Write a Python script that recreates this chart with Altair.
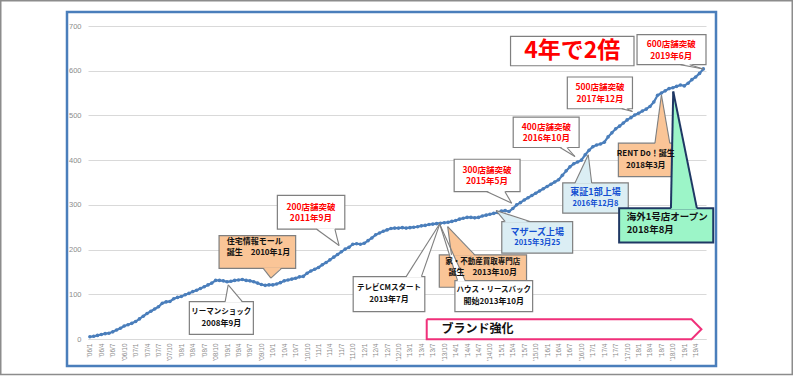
import altair as alt
import pandas as pd

# ---- data: monthly store count, 2006/1 .. 2019/6 ----
stores = [
    5, 6, 8, 10, 12, 13, 16, 20, 24, 29, 32, 35,            # 2006
    39, 45, 51, 57, 62, 67, 72, 80, 83, 84, 90, 93,         # 2007
    95, 99, 102, 106, 109, 113, 117, 121, 125, 131, 131, 130,  # 2008
    128, 129, 131, 132, 133, 131, 130, 128, 125, 122, 120, 121,  # 2009
    121, 123, 126, 130, 132, 134, 136, 139, 140, 147, 152, 156,  # 2010
    160, 166, 171, 177, 183, 189, 195, 201, 205, 212, 213, 212,  # 2011
    214, 220, 226, 233, 237, 241, 244, 247, 248, 248, 249, 248,  # 2012
    249, 250, 251, 253, 254, 256, 257, 258, 259, 260, 261, 263,  # 2013
    265, 268, 270, 272, 272, 271, 272, 275, 277, 279, 281, 283,  # 2014
    286, 287, 285, 292, 300, 305, 311, 316, 321, 326, 331, 336,  # 2015
    341, 346, 351, 356, 366, 376, 385, 392, 396, 400, 412, 422,  # 2016
    430, 434, 436, 440, 452, 461, 470, 476, 483, 490, 495, 501,  # 2017
    505, 510, 514, 520, 530, 545, 550, 555, 560, 562, 565, 568,  # 2018
    566, 572, 580, 586, 594, 604,                                # 2019
]
month_index = list(range(len(stores)))
tick_labels = [f"'{(2006 + k // 4) % 100:02d}/{1 + 3 * (k % 4)}" for k in range(54)]
tick_values = [3 * k for k in range(54)]
y_ticks = [0, 100, 200, 300, 400, 500, 600, 700]

# ---- annotation callouts (in data units: month index, store count) ----
box_id = ["lehman", "jutaku", "s200", "tvcm", "ie", "house", "s300", "mothers",
          "tosho", "rent", "kaigai", "x2", "s600", "s500", "s400"]
box_x1 = [26.1, 33.9, 49.2, 69.1, 91.7, 95.8, 95.6, 108.1, 124.1, 138.7, 138.9, 110.4, 143.6, 125.3, 111.1]
box_x2 = [42.9, 54.0, 66.9, 87.9, 114.6, 116.2, 112.9, 126.7, 141.3, 153.1, 163.6, 142.8, 161.7, 142.4, 128.4]
box_y1 = [10.5, 158, 245.6, 61, 115.7, 61, 329.7, 191.9, 281.4, 363.3, 215.6, 611.1, 613.4, 514.9, 428.3]
box_y2 = [83.5, 231, 321, 139.5, 188, 130.5, 402, 262.6, 349, 438, 292.6, 676.7, 680.5, 585.9, 496.3]
WHITE, ORANGE, LBLUE, MINT = "#ffffff", "#fac597", "#dbeef4", "#9cf5c8"
GRAY, NAVY = "#7f7f7f", "#1f3864"
box_fill = [WHITE, ORANGE, WHITE, WHITE, ORANGE, WHITE, WHITE, LBLUE, LBLUE, ORANGE, MINT, WHITE, WHITE, WHITE, WHITE]
box_stroke = [GRAY] * 10 + [NAVY] + [GRAY] * 4
box_sw = [1.2] * 10 + [2] + [1.2] * 4

# pointers: base on box edge (y, x1..x2) and tip
ptr_id = ["lehman", "jutaku", "s200", "tvcm", "ie", "house", "s300", "mothers",
          "tosho", "rent", "kaigai", "s600", "s500", "s400"]
ptr_by = [83.5, 158, 245.6, 139.5, 188, 130.5, 329.7, 262.6, 349, 438, 292.6, 613.4, 514.9, 428.3]
ptr_b1 = [35.5, 45.5, 59.5, 83.0, 94.9, 96.5, 104.1, 109.0, 127.3, 148.3, 152.5, 155.0, 139.6, 123.4]
ptr_b2 = [40.0, 50.3, 64.3, 87.0, 101.0, 98.5, 108.9, 115.5, 131.7, 152.2, 159.3, 157.4, 140.9, 125.2]
ptr_tx = [36.3, 47.5, 65.4, 91.9, 93.9, 91.9, 110.7, 106.6, 130.8, 150.0, 153.1, 161.0, 142.4, 127.3]
ptr_ty = [121, 136, 209, 259, 251.4, 255, 303.8, 287.2, 412, 546, 553.6, 603.8, 508.8, 408]
ptr_fill = [WHITE, ORANGE, WHITE, WHITE, ORANGE, WHITE, WHITE, LBLUE, LBLUE, ORANGE, MINT, WHITE, WHITE, WHITE]
ptr_edge = [GRAY] * 10 + [NAVY] + [GRAY] * 3

RED, BLACK, BLUE = "#ff0000", "#111111", "#1450d2"
txt = ["リーマンショック", "2008年9月",
       "200店舗突破", "2011年9月",
       "テレビCMスタート", "2013年7月",
       "家・不動産買取専門店", "誕生　2013年10月",
       "ハウス・リースバック", "開始2013年10月",
       "300店舗突破", "2015年5月",
       "マザーズ上場", "2015年3月25",
       "東証1部上場", "2016年12月8",
       "RENT Do！誕生", "2018年3月",
       "4年で2倍",
       "600店舗突破", "2019年6月",
       "500店舗突破", "2017年12月",
       "400店舗突破", "2016年10月"]
txt_x = [34.5, 34.5, 58.0, 58.0, 78.5, 78.5, 103.1, 103.1, 106.0, 106.0, 104.2, 104.2,
         117.4, 117.4, 132.7, 132.7, 145.9, 145.9, 126.6, 152.6, 152.6, 133.9, 133.9, 119.8, 119.8]
txt_y = [60, 34, 296.2, 270.2, 113.3, 87.5, 172.4, 146.6, 109, 82.8, 379, 353,
         240.2, 214.2, 328.6, 302.7, 413.7, 387.7, 644, 660, 634, 563.2, 537.3, 475.2, 449.3]
txt_c = [BLACK, BLACK, RED, RED, BLACK, BLACK, BLACK, BLACK, BLACK, BLACK, RED, RED,
         BLUE, BLUE, BLUE, BLUE, BLACK, BLACK, RED, RED, RED, RED, RED, RED, RED]
txt_s = [7.5, 8, 8.5, 8.5, 7.5, 8, 7.5, 8, 7.5, 8, 8.5, 8.5, 9, 7.5, 9, 7.5, 8, 8, 23,
         8.5, 8.5, 8.5, 8.5, 8.5, 8.5]

left_txt = ["住宅情報モール", "誕生　2010年1月", "海外1号店オープン", "2018年8月", "ブランド強化"]
left_x = [35.9, 35.9, 140.9, 140.9, 92.3]
left_y = [217.1, 191.4, 273.8, 244, 21.7]
left_s = [8, 8, 9.5, 9.5, 12]

arrow_x = [88.4, 157.9, 160.5, 157.9, 88.4, 88.4]
arrow_y = [44.1, 44.1, 21.7, -0.7, -0.7, 44.1]

# ---- build tables ----
line_df = pd.DataFrame({"i": month_index, "v": stores})
box_df = pd.DataFrame({"id": box_id, "x1": box_x1, "x2": box_x2, "y1": box_y1, "y2": box_y2,
                       "fill": box_fill, "stroke": box_stroke, "sw": box_sw})
area_rows, edge_rows = [], []
for k, pid in enumerate(ptr_id):
    d = 1 if ptr_ty[k] > ptr_by[k] else -1
    base_in = ptr_by[k] - d * 2.0
    area_rows.append({"id": pid, "y": base_in, "x": ptr_b1[k], "x2": ptr_b2[k], "fill": ptr_fill[k]})
    area_rows.append({"id": pid, "y": ptr_ty[k], "x": ptr_tx[k], "x2": ptr_tx[k], "fill": ptr_fill[k]})
    for b in (ptr_b1[k], ptr_b2[k]):
        edge_rows.append({"x": b, "y": ptr_by[k], "xe": ptr_tx[k], "ye": ptr_ty[k],
                          "c": ptr_edge[k], "w": 2 if ptr_edge[k] == NAVY else 1.1})
area_df = pd.DataFrame(area_rows)
edge_df = pd.DataFrame(edge_rows)
txt_df = pd.DataFrame({"x": txt_x, "y": txt_y, "t": txt, "c": txt_c, "s": txt_s})
left_df = pd.DataFrame({"x": left_x, "y": left_y, "t": left_txt, "s": left_s})
arrow_df = pd.DataFrame({"x": arrow_x, "y": arrow_y, "o": list(range(len(arrow_x)))})

xs = alt.Scale(domain=[-0.5, 161.7], nice=False, zero=False)
ys = alt.Scale(domain=[0, 700], nice=False)
label_expr = "[" + ",".join('"' + s + '"' for s in tick_labels) + "][round(datum.value/3)]"

x_axis = alt.Axis(values=tick_values, labelExpr=label_expr, labelAngle=270,
                  labelFontSize=6.5, labelColor="#8c8c8c", labelFont="Liberation Sans",
                  grid=False, ticks=False, domainColor="#d9d9d9", labelPadding=4,
                  labelOverlap=False, title=None)
y_axis = alt.Axis(values=y_ticks, labelFontSize=7.5, labelColor="#8c8c8c",
                  labelFont="Liberation Sans", ticks=False, domain=False,
                  gridColor="#d9d9d9", labelPadding=7, title=None)


def X(field, **kw):
    return alt.X(field, scale=xs, axis=x_axis, title=None, **kw)


def Y(field, **kw):
    return alt.Y(field, scale=ys, axis=y_axis, title=None, **kw)


FONT = "Noto Sans CJK JP"

line = alt.Chart(line_df).mark_line(color="#4a7ebb", strokeWidth=2.2).encode(
    x=X("i:Q"), y=Y("v:Q"))
pts = alt.Chart(line_df).mark_point(filled=True, color="#4a7ebb", size=13, opacity=1).encode(
    x=X("i:Q"), y=Y("v:Q"))

arrow = alt.Chart(arrow_df).mark_line(color="#f0307a", strokeWidth=2).encode(
    x=X("x:Q"), y=Y("y:Q"), order="o:Q")

boxes = alt.Chart(box_df).mark_rect().encode(
    x=X("x1:Q"), x2="x2:Q", y=Y("y1:Q"), y2="y2:Q",
    fill=alt.Fill("fill:N", scale=None), stroke=alt.Stroke("stroke:N", scale=None),
    strokeWidth=alt.StrokeWidth("sw:Q", scale=None))

ptr_fill_layer = alt.Chart(area_df).mark_area(orient="horizontal", opacity=1).encode(
    y=Y("y:Q"), x=X("x:Q", stack=None), x2="x2:Q",
    detail="id:N", fill=alt.Fill("fill:N", scale=None))

ptr_edges = alt.Chart(edge_df).mark_rule().encode(
    x=X("x:Q"), x2="xe:Q", y=Y("y:Q"), y2="ye:Q",
    color=alt.Color("c:N", scale=None), strokeWidth=alt.StrokeWidth("w:Q", scale=None))

texts = alt.Chart(txt_df).mark_text(font=FONT, fontWeight="bold", baseline="middle", align="center").encode(
    x=X("x:Q"), y=Y("y:Q"),
    text="t:N", color=alt.Color("c:N", scale=None), size=alt.Size("s:Q", scale=None))

ltexts = alt.Chart(left_df).mark_text(font=FONT, fontWeight="bold", baseline="middle", align="left",
                                      color=BLACK).encode(
    x=X("x:Q"), y=Y("y:Q"), text="t:N", size=alt.Size("s:Q", scale=None))

deco = pd.DataFrame({"a": [0]})
frame = alt.Chart(deco).mark_rect(fill=None, stroke="#8c8c8c", strokeWidth=1.5).encode(
    x=alt.value(-87.25), x2=alt.value(704.25), y=alt.value(-25.25), y2=alt.value(348.5))
blue_border = alt.Chart(deco).mark_rect(fill=None, stroke="#4a7ebb", strokeWidth=2.5).encode(
    x=alt.value(-21), x2=alt.value(628), y=alt.value(-14), y2=alt.value(340))

chart = alt.layer(line, pts, arrow, boxes, ptr_fill_layer, ptr_edges,
                  texts, ltexts, frame, blue_border).properties(
    width=618, height=313,
    padding={"left": 88, "top": 26, "right": 88, "bottom": 37},
    autosize=alt.AutoSizeParams(type="none"),
    background="white",
).configure_view(stroke=None)

chart.save("out.html", embed_options={"renderer": "svg", "actions": False})
